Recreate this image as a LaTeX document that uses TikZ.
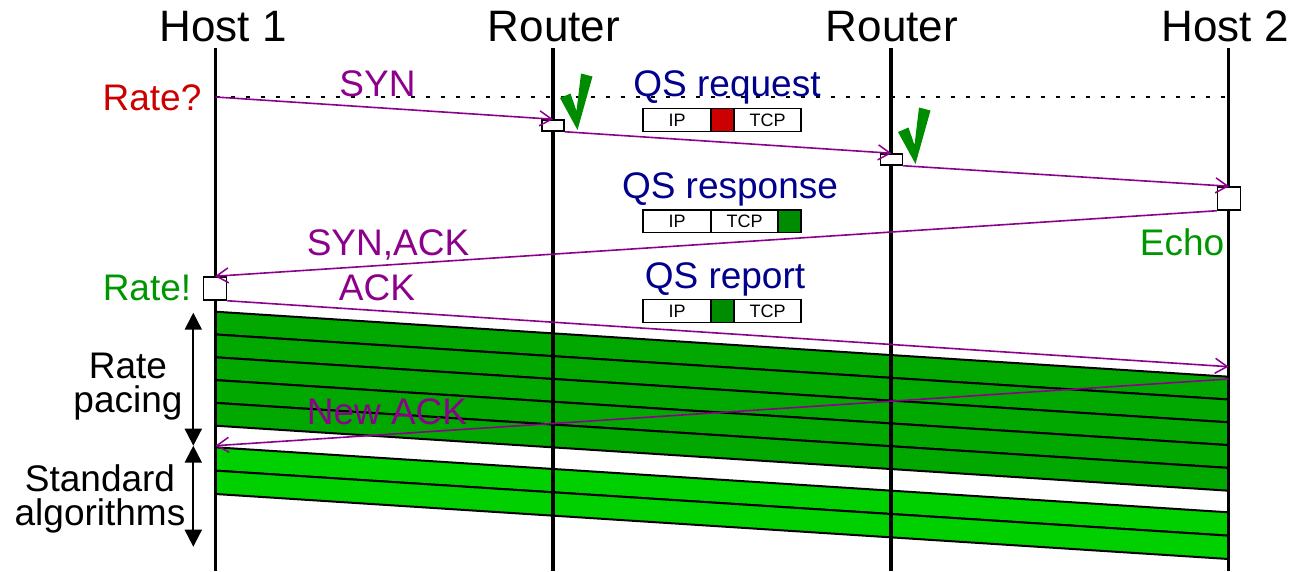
\documentclass[tikz,border=0pt]{standalone}
\usepackage{fontspec}
\setmainfont{Liberation Sans}
\usetikzlibrary{arrows.meta}
\definecolor{msgc}{RGB}{140,0,140}
\definecolor{qsblue}{RGB}{0,0,140}
\definecolor{dgreen}{RGB}{0,168,0}
\definecolor{lgreen}{RGB}{0,208,0}
\definecolor{tgreen}{RGB}{0,150,0}
\definecolor{ckgreen}{RGB}{0,140,0}
\definecolor{cellgreen}{RGB}{0,140,0}
\definecolor{rred}{RGB}{204,0,0}
\tikzset{
  life/.style={line width=3.5pt},
  msg/.style={draw=msgc,line width=1.6pt,-{Straight Barb[length=12pt,width=15pt,line width=1.5pt]}},
  title/.style={font=\fontsize{44}{44}\selectfont,anchor=base,inner sep=0pt},
  lbl/.style={font=\fontsize{37}{37}\selectfont,anchor=base,inner sep=0pt},
  smallbox/.style={draw,fill=white,line width=1.5pt,minimum width=22pt,minimum height=11pt,inner sep=0pt},
  bigbox/.style={draw,fill=white,line width=1.5pt,minimum width=23pt,minimum height=23pt,inner sep=0pt},
  cell/.style={draw,line width=1.5pt,minimum height=22.7pt,inner sep=0pt,font=\fontsize{18}{18}\selectfont},
  stripe/.style={draw=black,line width=2pt},
  span/.style={line width=2pt,{Triangle[length=17pt,width=17pt]}-{Triangle[length=17pt,width=17pt]}},
  ckmark/.pic={\fill[ckgreen] (7,-33) -- (17.5,-37.5) -- (23.5,-20) -- (28,-57.5) -- (39.5,-54.5) -- (24.5,-1) -- cycle;}
}
\begin{document}
\begin{tikzpicture}[x=1pt,y=-1pt]
\useasboundingbox (0,0) rectangle (1301,571);
% lifeline coordinates
\coordinate (h1t) at (215.5,48); \coordinate (h1b) at (215.5,571);
\coordinate (r1t) at (553,48);   \coordinate (r1b) at (553,571);
\coordinate (r2t) at (891,48);   \coordinate (r2b) at (891,571);
\coordinate (h2t) at (1228.5,48);\coordinate (h2b) at (1228.5,571);
% green bands
\foreach \i in {0,...,4}{
  \filldraw[stripe,fill=dgreen] (215.5,311.7+22.8*\i) -- (1228.5,376.7+22.8*\i) -- (1228.5,399.5+22.8*\i) -- (215.5,334.5+22.8*\i) -- cycle;
}
\foreach \i in {0,1}{
  \filldraw[stripe,fill=lgreen] (215.5,447.3+23.35*\i) -- (1228.5,512.3+23.35*\i) -- (1228.5,535.65+23.35*\i) -- (215.5,470.65+23.35*\i) -- cycle;
}
% lifelines
\draw[life] (h1t) -- (h1b);
\draw[life] (r1t) -- (r1b);
\draw[life] (r2t) -- (r2b);
\draw[life] (h2t) -- (h2b);
% titles
\node[title] (th1) at (223,41) {Host 1};
\node[title] (tr1) at (554,41) {Router};
\node[title] (tr2) at (892,41) {Router};
\node[title] (th2) at (1225,41) {Host 2};
% dotted line
\coordinate (d1) at (215.5,97);
\coordinate (d2) at (1228.5,97);
\draw[line width=2pt,dash pattern=on 4pt off 11pt] (d1) -- (d2);
\node[lbl,text=rred] (rq) at (152,110) {Rate?};
% boxes
\node[smallbox] (rb1) at (553,125.5) {};
\node[smallbox] (rb2) at (891.5,159.5) {};
\node[bigbox] (hb2) at (1229,198.5) {};
\node[bigbox] (hb1) at (215,288.5) {};
% messages
\draw[msg] (d1) -- (rb1.north);
\draw[msg] (rb1.south east) -- (rb2.north);
\draw[msg] (rb2.south east) -- (hb2.north);
\draw[msg] (hb2.south west) -- (hb1.north);
\coordinate (ackend) at (1228.5,366.7);
\draw[msg] (hb1.south east) -- (ackend);
\coordinate (nastart) at (1228.5,379);
\coordinate (naend) at (215.5,445.7);
\draw[msg] (nastart) -- (naend);
% check marks
\pic at (553,131) {ckmark};
\pic at (891,165) {ckmark};
% message labels
\node[lbl,text=msgc] (lsyn) at (377.5,96) {SYN};
\node[lbl,text=msgc] (lsa) at (388,255) {SYN,ACK};
\node[lbl,text=msgc] (lack) at (377,300) {ACK};
\node[lbl,text=msgc] (lna) at (387,424) {New ACK};
\node[lbl,text=qsblue] (lqr) at (727,96) {QS request};
\node[lbl,text=qsblue] (lqs) at (730,198) {QS response};
\node[lbl,text=qsblue] (lqp) at (725,288) {QS report};
\node[lbl,text=tgreen] (lecho) at (1182,255) {Echo};
\node[lbl,text=tgreen] (lrate) at (147,300) {Rate!};
% packets
\node[cell,minimum width=68pt] (p1ip) at (677,120) {IP};
\node[cell,minimum width=23pt,fill=rred] (p1f) at (722.5,120) {};
\node[cell,minimum width=67pt] (p1tcp) at (767.5,120) {TCP};
\node[cell,minimum width=68pt] (p2ip) at (677,221.3) {IP};
\node[cell,minimum width=67pt] (p2tcp) at (744.5,221.3) {TCP};
\node[cell,minimum width=23pt,fill=cellgreen] (p2f) at (789.5,221.3) {};
\node[cell,minimum width=68pt] (p3ip) at (677,311) {IP};
\node[cell,minimum width=23pt,fill=cellgreen] (p3f) at (722.5,311) {};
\node[cell,minimum width=67pt] (p3tcp) at (767.5,311) {TCP};
% spans
\coordinate (s1) at (193.3,312.7);
\coordinate (s2) at (193.3,445.7);
\coordinate (s3) at (193.3,546.7);
\draw[span] (s1) -- (s2);
\draw[span] (s2) -- (s3);
\node[lbl] (lrp1) at (128,378) {Rate};
\node[lbl] (lrp2) at (128,412) {pacing};
\node[lbl] (lsa1) at (100,491) {Standard};
\node[lbl] (lsa2) at (100,525) {algorithms};
\end{tikzpicture}
\end{document}
